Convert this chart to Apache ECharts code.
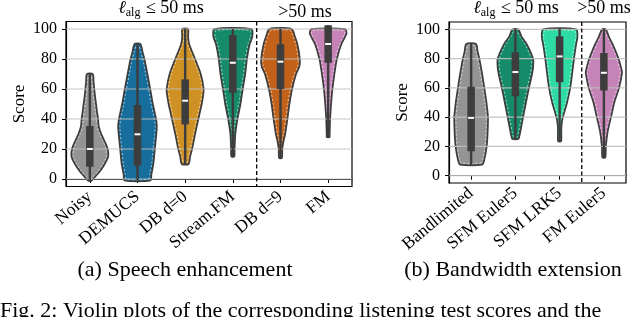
<!DOCTYPE html>
<html>
<head>
<meta charset="utf-8">
<script src="https://cdn.jsdelivr.net/npm/echarts@6/dist/echarts.min.js"></script>
<style>
  html, body { margin: 0; padding: 0; background: #fff; }
  #chart { width: 640px; height: 317px; }
</style>
</head>
<body>
<div id="chart"></div>
<script>
// ---------------- DATA ----------------
// (a) Speech enhancement
const seCategories = ['Noisy', 'DEMUCS', 'DB d=0', 'Stream.FM', 'DB d=9', 'FM'];
const seLowLatencyCount = 4; // first 4 systems: l_alg <= 50 ms
// violin outline: score levels and relative density at each level
const seViolinY = [
  [-1, 2, 5, 10, 15, 20, 25, 30, 35, 40, 45, 50, 55, 60, 65, 70],
  [-1, 3, 10, 20, 30, 35, 40, 50, 60, 70, 80, 85, 90],
  [10, 15, 20, 30, 40, 50, 55, 60, 70, 80, 90, 95, 100],
  [15, 20, 30, 40, 50, 60, 70, 80, 90, 95, 100],
  [14, 20, 25, 30, 40, 50, 60, 70, 75, 80, 90, 95, 100],
  [28, 30, 40, 50, 60, 70, 80, 90, 97, 100]
];
const seViolinD = [
  [2, 6, 10, 15, 18.5, 18, 15, 11.5, 9, 8.3, 7.2, 6.3, 5.3, 4.5, 3.8, 3],
  [13, 14, 16, 17.5, 19, 19.5, 18.7, 15.5, 12.8, 10, 7, 5, 3],
  [3.5, 5, 7, 10, 13.3, 16.7, 18, 18.7, 15.7, 10, 4, 3, 3],
  [1.5, 1.8, 2.5, 4.7, 7.7, 10, 12.5, 14.2, 17, 19.7, 18.7],
  [1.5, 1.8, 3, 4.7, 7, 9, 11.7, 15.7, 19, 19.5, 17, 14.5, 11.3],
  [1.5, 1.5, 2, 3, 4.3, 6.3, 8.8, 13.3, 18.5, 17]
];
// box stats: [whisker low, Q1, median, Q3, whisker high]
const seBox = [
  [-1, 8.2, 20, 35.3, 70],
  [-1, 8.9, 29.8, 49.3, 90],
  [10, 36.4, 52.2, 66.4, 100],
  [14.5, 57.5, 77.5, 96, 100],
  [13.8, 60, 78.2, 89.8, 100],
  [27.8, 77.5, 90, 102.5, 102.5]
];

// (b) Bandwidth extension
const bweCategories = ['Bandlimited', 'SFM Euler5', 'SFM LRK5', 'FM Euler5'];
const bweLowLatencyCount = 3;
const bweViolinY = [
  [7.5, 10, 20, 30, 40, 50, 60, 70, 80, 85, 90],
  [25, 27, 30, 40, 50, 60, 70, 75, 80, 90, 95, 100],
  [23.5, 30, 35, 40, 50, 60, 70, 80, 90, 95, 100],
  [12.5, 20, 30, 40, 50, 60, 70, 72, 80, 90, 95, 100]
];
const bweViolinD = [
  [11, 13, 15.7, 16.7, 17, 15.5, 13.3, 11, 8.3, 6.5, 5],
  [3, 4, 5, 7.8, 10.7, 13.7, 17, 18, 17.8, 11.3, 6.2, 3],
  [1.5, 1.7, 2, 3.3, 7.5, 10.7, 12.7, 14.5, 16.7, 18, 16.7],
  [1.5, 2, 3.8, 7.2, 10.5, 15.3, 18.3, 18, 14.7, 8.7, 5, 2]
];
const bweBox = [
  [7.5, 16.7, 39.5, 60.7, 90.5],
  [25, 54.3, 70.8, 84.3, 100.5],
  [23.5, 63.9, 81.5, 95.2, 100.5],
  [12.5, 58.2, 70.3, 83.8, 100.5]
];

const yTicks = [0, 20, 40, 60, 80, 100];

// ---------------- STYLE ----------------
const FONT = "'Liberation Serif', 'DejaVu Serif', serif";
const seColors = ['#949494', '#176d9c', '#cf9024', '#158b6a', '#c2621a', '#c583b8'];
const bweColors = ['#949494', '#158b6a', '#2fdba4', '#c583b8'];
const DARK = '#3d3d3d';

function maxOf(arrs) { let m = 0; arrs.forEach(a => a.forEach(v => { if (v > m) m = v; })); return m; }

function violinRender(profY, profD, colors) {
  const maxD = maxOf(profD);
  return function (params, api) {
    const i = api.value(0);
    const ys = profY[i], ds = profD[i];
    const cx = api.coord([i, 0])[0];
    const band = api.size([1, 0])[0];
    const k = 0.41 * band / maxD;
    const right = [], left = [], rIn = [], lIn = [];
    for (let j = 0; j < ys.length; j++) {
      const py = api.coord([i, ys[j]])[1];
      const w = ds[j] * k;
      right.push([cx + w, py]);
      left.push([cx - w, py]);
      const wi = Math.max(w - 1.7, 0.3);
      const pyi = j === 0 ? py - 1.5 : (j === ys.length - 1 ? py + 1.5 : py);
      rIn.push([cx + wi, pyi]);
      lIn.push([cx - wi, pyi]);
    }
    const pts = right.concat(left.reverse());
    const ptsIn = rIn.concat(lIn.reverse());
    return {
      type: 'group',
      children: [
        { type: 'polygon', shape: { points: pts, smooth: 0.25 },
          style: { fill: colors[i], stroke: DARK, lineWidth: 1.7 } },
        { type: 'polygon', shape: { points: ptsIn, smooth: 0.25 },
          style: { fill: null, stroke: 'rgba(255,255,255,0.75)', lineWidth: 0.8, lineDash: [2, 2] } }
      ]
    };
  };
}

function boxRender(stats) {
  return function (params, api) {
    const i = api.value(0);
    const s = stats[i];
    const cx = api.coord([i, 0])[0];
    const yLo = api.coord([i, s[0]])[1];
    const yQ1 = api.coord([i, s[1]])[1];
    const yMed = api.coord([i, s[2]])[1];
    const yQ3 = api.coord([i, s[3]])[1];
    const yHi = api.coord([i, s[4]])[1];
    const bw = 7.5;
    return {
      type: 'group',
      children: [
        { type: 'line', shape: { x1: cx, y1: yLo, x2: cx, y2: yHi },
          style: { stroke: DARK, lineWidth: 2.4 } },
        { type: 'rect', shape: { x: cx - bw / 2, y: yQ3, width: bw, height: yQ1 - yQ3 },
          style: { fill: DARK } },
        { type: 'line', shape: { x1: cx - bw / 2 + 0.8, y1: yMed, x2: cx + bw / 2 - 0.8, y2: yMed },
          style: { stroke: '#ffffff', lineWidth: 2 } }
      ]
    };
  };
}

function gridLineRender(params, api) {
  const y = api.coord([0, api.value(1)])[1];
  const cs = params.coordSys;
  return { type: 'line', shape: { x1: cs.x, y1: y, x2: cs.x + cs.width, y2: y },
    style: { stroke: 'rgba(190,190,190,0.9)', lineWidth: 1.2 } };
}

function sepRender(params, api) {
  const n = api.value(0);
  const band = api.size([1, 0])[0];
  const x = api.coord([n - 1, 0])[0] + band / 2;
  const cs = params.coordSys;
  return { type: 'line', shape: { x1: x, y1: cs.y, x2: x, y2: cs.y + cs.height },
    style: { stroke: '#000', lineWidth: 1.3, lineDash: [4, 2.5] } };
}

function xAxisCfg(gi, cats) {
  return {
    type: 'category', gridIndex: gi, data: cats, boundaryGap: true,
    axisLine: { show: true, lineStyle: { color: '#000', width: 1.2 } },
    axisTick: { show: true, alignWithLabel: true, length: 4, lineStyle: { color: '#000', width: 1 } },
    axisLabel: { rotate: 40, margin: 8, color: '#000', fontFamily: FONT, fontSize: 17.5, interval: 0 },
    splitLine: { show: false }
  };
}
function yAxisCfg(gi) {
  return {
    type: 'value', gridIndex: gi, min: -5, max: 105,
    name: 'Score', nameLocation: 'middle', nameRotate: 90, nameGap: 38,
    nameTextStyle: { color: '#000', fontFamily: FONT, fontSize: 17 },
    axisLine: { show: true, lineStyle: { color: '#000', width: 1.2 } },
    axisTick: { show: true, length: 4, customValues: yTicks, lineStyle: { color: '#000', width: 1 } },
    axisLabel: { margin: 9, color: '#000', fontFamily: FONT, fontSize: 16, customValues: yTicks },
    splitLine: { show: false }
  };
}

const chart = echarts.init(document.getElementById('chart'), null, { renderer: 'canvas' });

function titleText(x, y, kind) {
  if (kind === 'low') {
    return {
      type: 'text', x: x, y: y,
      style: {
        text: '{l|ℓ}{s|alg}{n| ≤ 50 ms}',
        align: 'center', verticalAlign: 'middle',
        fontFamily: FONT, fill: '#000',
        rich: {
          l: { fontFamily: FONT, fontSize: 18, fontStyle: 'italic', fill: '#000' },
          s: { fontFamily: FONT, fontSize: 12, fill: '#000', padding: [9, 1, 0, 0] },
          n: { fontFamily: FONT, fontSize: 18, fill: '#000' }
        }
      }
    };
  }
  return { type: 'text', x: x, y: y,
    style: { text: '>50 ms', align: 'center', verticalAlign: 'middle', fontFamily: FONT, fontSize: 18, fill: '#000' } };
}

const option = {
  animation: false,
  backgroundColor: '#fff',
  grid: [
    { left: 66, top: 21.5, width: 286, height: 165, show: true, borderColor: '#000', borderWidth: 1.2, backgroundColor: 'transparent', containLabel: false, outerBoundsMode: 'none' },
    { left: 449, top: 22, width: 177, height: 161, show: true, borderColor: '#000', borderWidth: 1.2, backgroundColor: 'transparent', containLabel: false, outerBoundsMode: 'none' }
  ],
  xAxis: [xAxisCfg(0, seCategories), xAxisCfg(1, bweCategories)],
  yAxis: [yAxisCfg(0), yAxisCfg(1)],
  series: [
    { type: 'custom', xAxisIndex: 0, yAxisIndex: 0, z: 2, silent: true,
      data: seCategories.map((c, i) => [i]), encode: { x: 0 }, renderItem: violinRender(seViolinY, seViolinD, seColors) },
    { type: 'custom', xAxisIndex: 0, yAxisIndex: 0, z: 3, silent: true,
      data: yTicks.map(v => [0, v]), encode: { x: 0, y: 1 }, renderItem: gridLineRender },
    { type: 'custom', xAxisIndex: 0, yAxisIndex: 0, z: 4, silent: true,
      data: seCategories.map((c, i) => [i]), encode: { x: 0 }, renderItem: boxRender(seBox) },
    { type: 'custom', xAxisIndex: 0, yAxisIndex: 0, z: 5, silent: true,
      data: [[seLowLatencyCount]], encode: { x: 0 }, renderItem: sepRender },

    { type: 'custom', xAxisIndex: 1, yAxisIndex: 1, z: 2, silent: true,
      data: bweCategories.map((c, i) => [i]), encode: { x: 0 }, renderItem: violinRender(bweViolinY, bweViolinD, bweColors) },
    { type: 'custom', xAxisIndex: 1, yAxisIndex: 1, z: 3, silent: true,
      data: yTicks.map(v => [0, v]), encode: { x: 0, y: 1 }, renderItem: gridLineRender },
    { type: 'custom', xAxisIndex: 1, yAxisIndex: 1, z: 4, silent: true,
      data: bweCategories.map((c, i) => [i]), encode: { x: 0 }, renderItem: boxRender(bweBox) },
    { type: 'custom', xAxisIndex: 1, yAxisIndex: 1, z: 5, silent: true,
      data: [[bweLowLatencyCount]], encode: { x: 0 }, renderItem: sepRender }
  ],
  graphic: [
    titleText(161, 8, 'low'),
    titleText(305, 12, 'high'),
    titleText(516, 8, 'low'),
    titleText(604, 8, 'high'),
    { type: 'text', x: 185, y: 270, style: { text: '(a) Speech enhancement', align: 'center', verticalAlign: 'middle', fontFamily: FONT, fontSize: 22, fill: '#000' } },
    { type: 'text', x: 513, y: 270, style: { text: '(b) Bandwidth extension', align: 'center', verticalAlign: 'middle', fontFamily: FONT, fontSize: 22, fill: '#000' } },
    { type: 'text', x: 0, y: 300, style: { text: 'Fig. 2: Violin plots of the corresponding listening test scores and the', align: 'left', verticalAlign: 'top', fontFamily: FONT, fontSize: 22, fill: '#000' } }
  ]
};
chart.setOption(option);
</script>
</body>
</html>
